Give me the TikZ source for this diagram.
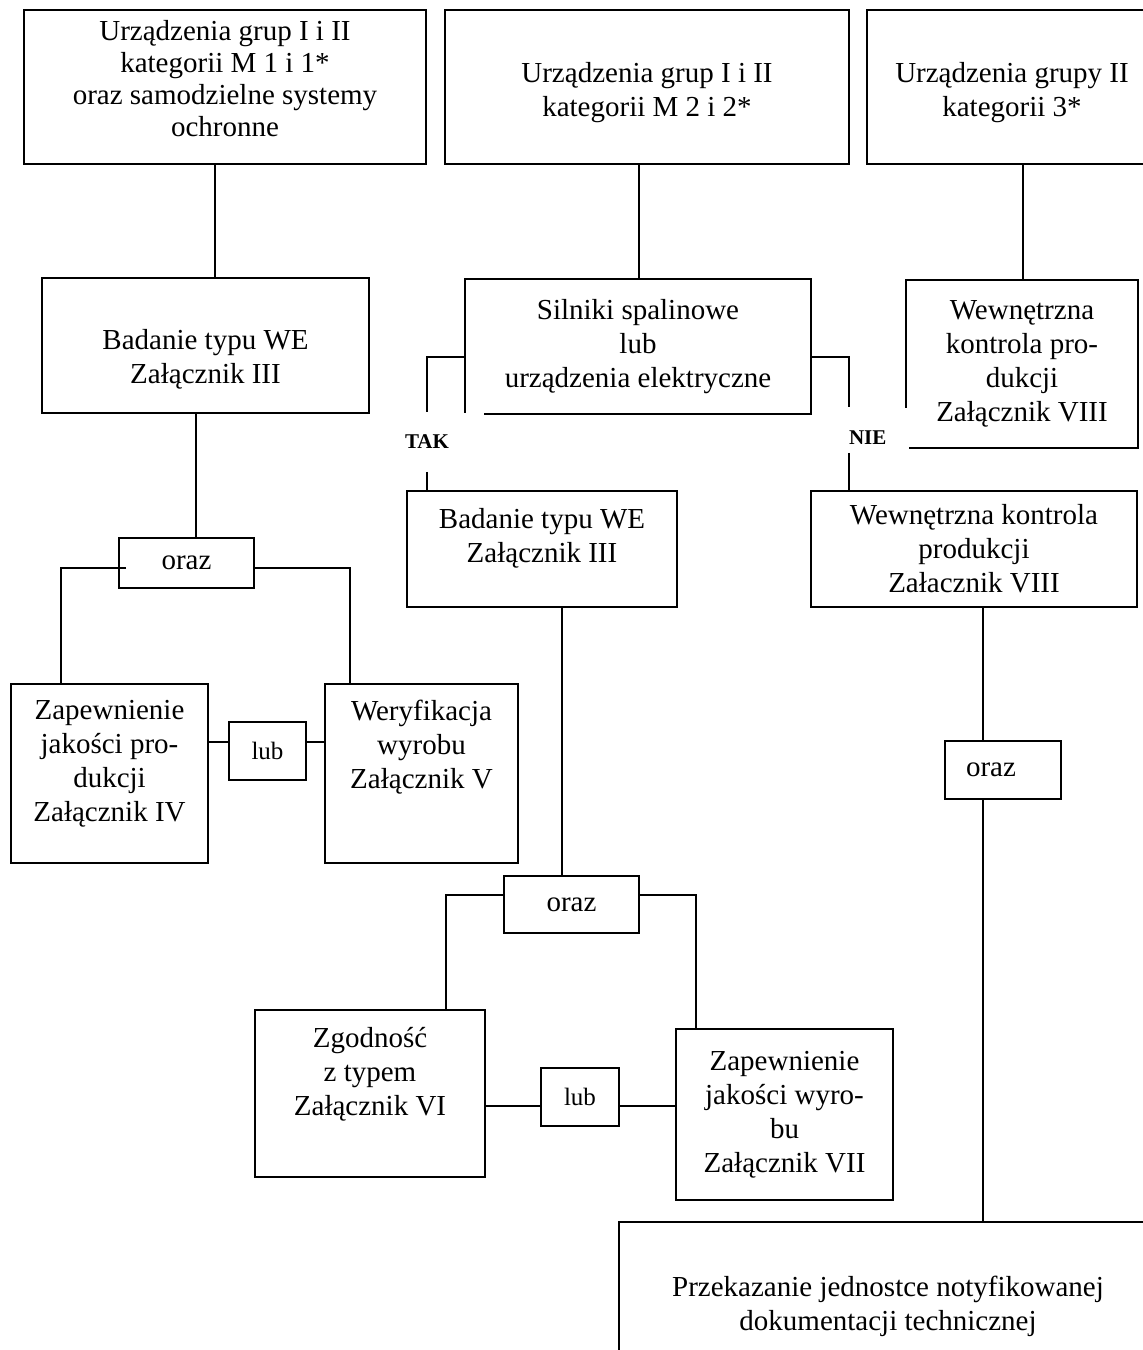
\documentclass[tikz,border=0pt]{standalone}
\usepackage{fontspec}
\setmainfont{Liberation Serif}

\begin{document}
\begin{tikzpicture}[x=0.5pt, y=-0.5pt, line width=0.9pt,
	every node/.style={font=\fontsize{14.5}{17}\selectfont},
	box/.style={draw, align=center, inner sep=0pt},
	toprow/.style={box, minimum height=77pt},
	sel/.style={draw, inner sep=0pt, font=\fontsize{12.5}{14}\selectfont},
	dec/.style={fill=white, inner sep=0pt, font=\fontsize{10.5}{12}\selectfont\bfseries},
	lift/.style={text depth=#1},
	sink/.style={text height=#1}]
	\useasboundingbox (0,0) rectangle (1143,1350);
	\clip (0,0) rectangle (1143,1350);

	\node[toprow, minimum width=201pt, lift=9pt, font=\fontsize{14.5}{16}\selectfont] (grp1) at (225,87) {Urządzenia grup I i II\\kategorii M 1 i 1*\\oraz samodzielne systemy\\ochronne};
	\node[toprow, minimum width=202pt, sink=32.5pt] (grp2) at (647,87) {Urządzenia grup I i II\\kategorii M 2 i 2*};
	\node[toprow, minimum width=145pt, sink=32.5pt] (grp3) at (1012,87) {Urządzenia grupy II\\kategorii 3*};

	\node[box, minimum width=163.5pt, minimum height=67.5pt, sink=41pt] (bad1) at (205.5,345.5) {Badanie typu WE\\Załącznik III};
	\node[box, minimum width=173pt, minimum height=67.5pt] (sil) at (638,346.5) {Silniki spalinowe\\lub\\urządzenia elektryczne};
	\node[box, minimum width=116pt, minimum height=84pt] (wew1) at (1022,364) {Wewnętrzna\\kontrola pro-\\dukcji\\Załącznik VIII};

	\node[dec, minimum width=57pt, minimum height=29pt] (tak) at (427,442) {TAK};
	\node[dec, minimum width=33pt, minimum height=22pt, text width=27pt, align=left, sink=14pt] (nie) at (876,430) {NIE};

	\node[box, minimum width=135pt, minimum height=58pt, lift=14pt] (bad2) at (542,549) {Badanie typu WE\\Załącznik III};
	\node[box, minimum width=163pt, minimum height=58pt] (wew2) at (974,549) {Wewnętrzna kontrola\\produkcji\\Załacznik VIII};

	\node[box, minimum width=67.5pt, minimum height=25pt] (oraz1) at (186.5,563) {oraz};
	\node[box, minimum width=98.5pt, minimum height=89.5pt, lift=13pt] (zap1) at (109.5,773.5) {Zapewnienie\\jakości pro-\\dukcji\\Załącznik IV};
	\node[sel, minimum width=38.5pt, minimum height=29pt] (lub1) at (267.5,751) {lub};
	\node[box, minimum width=96.5pt, minimum height=89.5pt, lift=29pt] (wer) at (421.5,773.5) {Weryfikacja\\wyrobu\\Załącznik V};

	\node[box, minimum width=67.5pt, minimum height=28.5pt] (oraz2) at (571.5,904.5) {oraz};
	\node[box, minimum width=115pt, minimum height=83.5pt, lift=22pt] (zgod) at (370,1093.5) {Zgodność\\z typem\\Załącznik VI};
	\node[sel, minimum width=39pt, minimum height=29pt] (lub2) at (580,1097) {lub};
	\node[box, minimum width=108.5pt, minimum height=85.5pt] (zap2) at (784.5,1114.5) {Zapewnienie\\jakości wyro-\\bu\\Załącznik VII};

	\node[box, minimum width=58pt, minimum height=29pt, text width=37pt, align=left] (oraz3) at (1003,770) {oraz};
	\node[box, minimum width=269pt, minimum height=84pt] (prz) at (888,1306) {Przekazanie jednostce notyfikowanej\\dokumentacji technicznej};

	\draw (215,0 |- grp1.south) -- (215,0 |- bad1.north);
	\draw (639,0 |- grp2.south) -- (639,0 |- sil.north);
	\draw (1023,0 |- grp3.south) -- (1023,0 |- wew1.north);
	\draw (196,0 |- bad1.south) -- (196,0 |- oraz1.north);
	\draw (oraz1.west) ++(8,5) -| (61,0 |- zap1.north);
	\draw (oraz1.east) ++(0,5) -| (350,0 |- wer.north);
	\draw (zap1.east |- 0,742) -- (lub1.west |- 0,742);
	\draw (lub1.east |- 0,742) -- (wer.west |- 0,742);
	\draw (sil.west) ++(0,10.5) -| (tak.north);
	\draw (tak.south) -- (tak.south |- bad2.north);
	\draw (sil.east) ++(0,10.5) -| (849,0 |- nie.north);
	\draw (849,0 |- nie.south) -- (849,0 |- wew2.north);
	\draw (562,0 |- bad2.south) -- (562,0 |- oraz2.north);
	\draw (oraz2.west |- 0,895) -| (446,0 |- zgod.north);
	\draw (oraz2.east |- 0,895) -| (696,0 |- zap2.north);
	\draw (zgod.east |- 0,1106) -- (lub2.west |- 0,1106);
	\draw (lub2.east |- 0,1106) -- (zap2.west |- 0,1106);
	\draw (983,0 |- wew2.south) -- (983,0 |- oraz3.north);
	\draw (983,0 |- oraz3.south) -- (983,0 |- prz.north);
\end{tikzpicture}
\end{document}
